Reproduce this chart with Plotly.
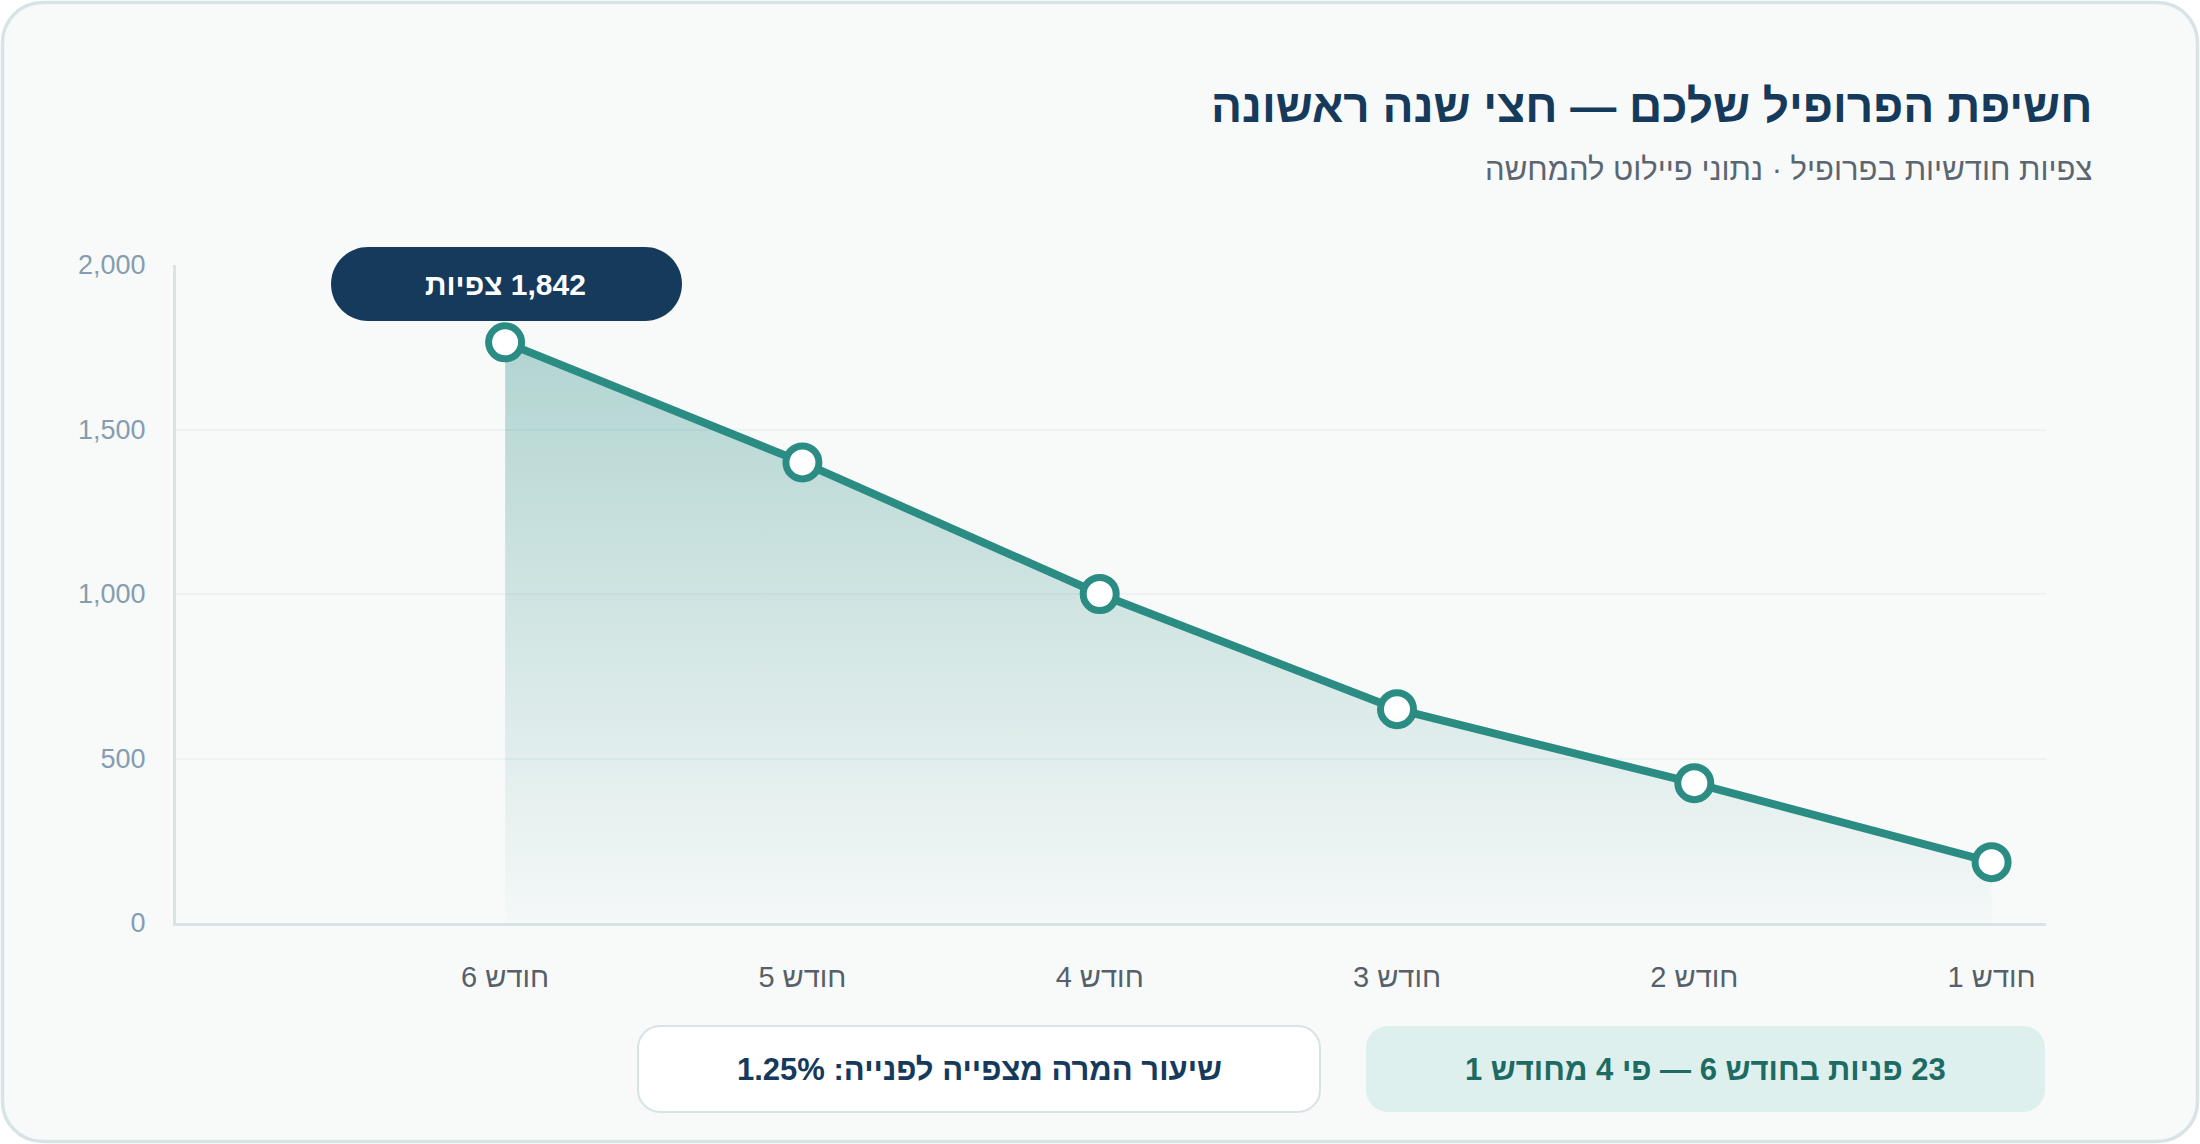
import plotly.graph_objects as go

# ---- data ----
months = ["חודש 1", "חודש 2", "חודש 3", "חודש 4", "חודש 5", "חודש 6"]
views = [185, 425, 650, 1000, 1400, 1765]
y_ticks = [0, 500, 1000, 1500, 2000]
peak_label = "1,842 צפיות"
title_text = "חשיפת הפרופיל שלכם — חצי שנה ראשונה"
subtitle_text = "צפיות חודשיות בפרופיל · נתוני פיילוט להמחשה"
box_left_text = "שיעור המרה מצפייה לפנייה: 1.25%"
box_right_text = "23 פניות בחודש 6 — פי 4 מחודש 1"

RLE, PDF = "\u202B", "\u202C"
def rtl(s):
    return RLE + s + PDF

# ---- layout geometry (pixels) ----
WIDTH, HEIGHT = 2200, 1144
L, R, T, B = 176, 154, 265, 221
PW = WIDTH - L - R
PH = HEIGHT - T - B

def X(px):
    return (px - L) / PW

def Y(py):
    return (HEIGHT - B - py) / PH

def rrect(x0, y0, x1, y1, r):
    k = 0.5523 * r
    pts = [
        ("M", [(x0 + r, y0)]),
        ("L", [(x1 - r, y0)]),
        ("C", [(x1 - r + k, y0), (x1, y0 + r - k), (x1, y0 + r)]),
        ("L", [(x1, y1 - r)]),
        ("C", [(x1, y1 - r + k), (x1 - r + k, y1), (x1 - r, y1)]),
        ("L", [(x0 + r, y1)]),
        ("C", [(x0 + r - k, y1), (x0, y1 - r + k), (x0, y1 - r)]),
        ("L", [(x0, y0 + r)]),
        ("C", [(x0, y0 + r - k), (x0 + r - k, y0), (x0 + r, y0)]),
    ]
    out = []
    for cmd, ps in pts:
        out.append(cmd + " " + " ".join(f"{X(a):.5f},{Y(b):.5f}" for a, b in ps))
    return " ".join(out) + " Z"

FONT = "Liberation Sans, Arial, sans-serif"
TEAL = "#2a8c82"
NAVY = "#163a5c"

fig = go.Figure()
fig.add_trace(go.Scatter(
    x=months, y=views,
    mode="lines+markers",
    fill="tozeroy",
    fillgradient=dict(
        type="vertical",
        colorscale=[[0, "rgba(42,140,130,0.02)"], [1, "rgba(42,140,130,0.34)"]],
        start=0, stop=max(views),
    ),
    line=dict(color=TEAL, width=8),
    marker=dict(size=33, color="white", line=dict(color=TEAL, width=7)),
    hoverinfo="skip",
    showlegend=False,
    cliponaxis=False,
))

shapes = [
    # card
    dict(type="path", xref="paper", yref="paper", layer="below",
         path=rrect(2.5, 2.5, 2197.5, 1141.5, 40),
         fillcolor="#f8fafa", line=dict(color="#d8e3e6", width=3.5)),
    # peak pill
    dict(type="path", xref="paper", yref="paper", layer="above",
         path=rrect(331, 247, 682, 321, 37),
         fillcolor=NAVY, line=dict(width=0)),
    # bottom boxes
    dict(type="path", xref="paper", yref="paper", layer="above",
         path=rrect(638, 1026, 1320, 1112, 22),
         fillcolor="white", line=dict(color="#d8e3e6", width=2)),
    dict(type="path", xref="paper", yref="paper", layer="above",
         path=rrect(1366, 1026, 2045, 1112, 22),
         fillcolor="#def0ee", line=dict(width=0)),
]

annotations = [
    dict(text=rtl(title_text), xref="paper", yref="paper", x=X(2094), y=Y(106),
         xanchor="right", yanchor="middle", showarrow=False,
         font=dict(family=FONT, size=46, color=NAVY, weight=700)),
    dict(text=rtl(subtitle_text), xref="paper", yref="paper", x=X(2094), y=Y(169),
         xanchor="right", yanchor="middle", showarrow=False,
         font=dict(family=FONT, size=31, color="#5b6670")),
    dict(text=rtl(peak_label), xref="x", yref="paper", x=months[-1], y=Y(284),
         xanchor="center", yanchor="middle", showarrow=False,
         font=dict(family=FONT, size=30, color="white", weight=700)),
    dict(text=rtl(box_left_text), xref="paper", yref="paper", x=X(979), y=Y(1069),
         xanchor="center", yanchor="middle", showarrow=False,
         font=dict(family=FONT, size=31, color=NAVY, weight=700)),
    dict(text=rtl(box_right_text), xref="paper", yref="paper", x=X(1705), y=Y(1069),
         xanchor="center", yanchor="middle", showarrow=False,
         font=dict(family=FONT, size=31, color="#1d6b63", weight=700)),
]

fig.update_layout(
    width=WIDTH, height=HEIGHT,
    margin=dict(l=L, r=R, t=T, b=B, pad=0),
    paper_bgcolor="white",
    plot_bgcolor="rgba(0,0,0,0)",
    shapes=shapes,
    annotations=annotations,
    font=dict(family=FONT),
    xaxis=dict(
        type="category",
        categoryorder="array",
        categoryarray=months[::-1],
        range=[-1.107, 5.183],
        showgrid=False, zeroline=False,
        showline=True, linecolor="#d8e3e6", linewidth=3,
        ticks="", ticklabelstandoff=26,
        tickfont=dict(family=FONT, size=29, color="#56606a"),
        fixedrange=True,
    ),
    yaxis=dict(
        range=[0, 2000],
        tickvals=y_ticks,
        tickformat=",",
        showgrid=True, gridcolor="#edf2f3", gridwidth=2,
        zeroline=False,
        showline=True, linecolor="#d8e3e6", linewidth=3,
        ticks="", ticklabelstandoff=22,
        tickfont=dict(family=FONT, size=27, color="#859db0"),
        fixedrange=True,
    ),
)

fig.write_html("out.html")
